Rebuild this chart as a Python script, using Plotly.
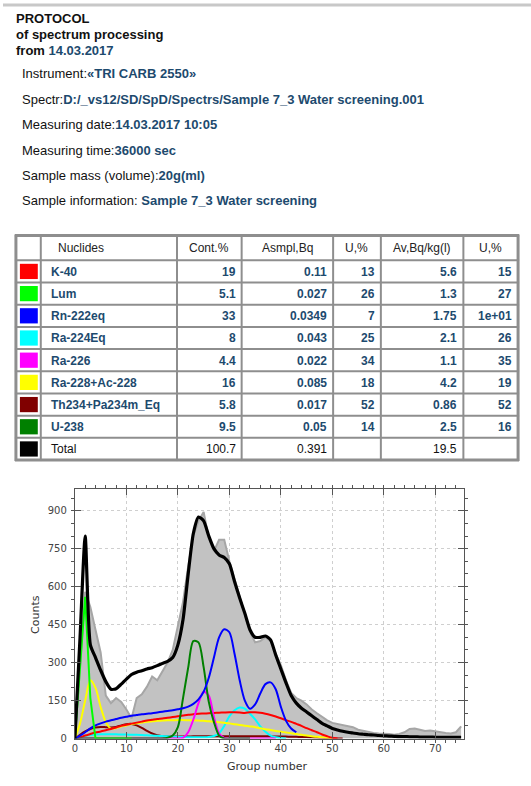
import plotly.graph_objects as go

W, H = 531, 786
BLUE_TXT = "#1d4a6e"
FONT = "Liberation Sans, Arial, sans-serif"
AXFONT = "DejaVu Sans, Verdana, sans-serif"

# ---------------- table data ----------------
nuclides = ["K-40", "Lum", "Rn-222eq", "Ra-224Eq", "Ra-226", "Ra-228+Ac-228",
            "Th234+Pa234m_Eq", "U-238", "Total"]
nuc_colors = ["#ff0000", "#00ff00", "#0000ff", "#00ffff", "#ff00ff", "#ffff00",
              "#800000", "#008000", "#000000"]
cont_pct = ["19", "5.1", "33", "8", "4.4", "16", "5.8", "9.5", "100.7"]
asmpl_bq = ["0.11", "0.027", "0.0349", "0.043", "0.022", "0.085", "0.017", "0.05", "0.391"]
u_pct_1 = ["13", "26", "7", "25", "34", "18", "52", "14", ""]
av_bq_kg = ["5.6", "1.3", "1.75", "2.1", "1.1", "4.2", "0.86", "2.5", "19.5"]
u_pct_2 = ["15", "27", "1e+01", "26", "35", "19", "52", "16", ""]
header_labels = ["", "Nuclides", "Cont.%", "Asmpl,Bq", "U,%", "Av,Bq/kg(l)", "U,%"]

# ---------------- spectrum data (group number 0..75) ----------------
groups = list(range(76))
measured = [0, 280, 580, 520, 430, 340, 170, 140, 160, 145, 115, 80, 160, 175, 205, 245,
            230, 265, 300, 350, 440, 540, 680, 800, 860, 895, 790, 740, 785, 785, 700, 630,
            570, 500, 420, 380, 385, 400, 385, 335, 290, 230, 180, 160, 150, 135, 115, 100,
            85, 72, 62, 58, 52, 48, 45, 35, 30, 26, 22, 20, 20, 18, 15, 18, 25, 38,
            40, 35, 30, 32, 28, 25, 22, 20, 25, 48]
total_fit = [0, 400, 800, 370, 320, 270, 225, 195, 197, 215, 235, 253, 262, 268, 275, 280,
             288, 297, 305, 320, 370, 470, 650, 810, 875, 860, 800, 750, 725, 715, 690, 620,
             555, 495, 430, 400, 400, 405, 390, 330, 275, 220, 170, 140, 120, 105, 90, 75,
             60, 50, 40, 34, 29, 25, 22, 19, 17, 15, 14, 12, 11, 10, 9, 8, 8, 7,
             7, 6, 6, 6, 5, 5, 5, 5, 5, 5]

k40 = [0, 5, 12, 18, 24, 28, 33, 38, 44, 50, 55, 59, 63, 67, 71, 74, 77, 79, 82, 85, 88,
       91, 94, 96, 98, 99, 100, 101, 102, 103, 104, 104, 103, 101, 104, 104, 102, 98, 93,
       87, 80, 73, 66, 58, 50, 41, 33, 25, 16, 9, 3, 0]
lum = [0, 280, 560, 160, 0, 0, 0, 0, 0, 0, 0, 0]
rn222 = [0, 12, 25, 40, 52, 60, 67, 72, 77, 82, 86, 90, 93, 96, 98, 100, 103, 106, 109,
         112, 116, 120, 126, 137, 155, 185, 240, 320, 400, 432, 420, 335, 230, 150, 118,
         135, 178, 215, 222, 195, 125, 70, 40, 25]
ra224 = [0, 5, 10, 14, 16, 17, 17, 17, 17, 16, 16, 15, 15, 14, 13, 12, 11, 10, 9, 8, 7,
         6, 5, 5, 5, 5, 6, 10, 20, 50, 88, 112, 123, 118, 98, 76, 48, 27, 12, 5, 2, 0]
ra226 = [0, 0, 0, 0, 0, 0, 0, 0, 0, 0, 0, 0, 0, 0, 0, 0, 0, 0, 0, 0, 0,
         3, 25, 75, 140, 185, 170, 85, 20, 3, 0, 0, 0, 0, 0, 0, 0, 0, 0, 0]
ra228 = [0, 60, 150, 230, 200, 125, 65, 39, 42, 48, 52, 57, 60, 63, 66, 68, 70, 71, 72,
         72, 73, 73, 72, 72, 71, 70, 68, 66, 64, 62, 60, 57, 54, 51, 48, 45, 41, 37, 34,
         30, 27, 24, 21, 18, 15, 12, 9, 7, 5, 3, 2]
th234 = [0, 15, 28, 38, 44, 46, 45, 44, 46, 52, 57, 58, 52, 42, 30, 20, 13, 9, 8, 8, 8,
         8, 8, 9, 9, 9, 9, 9, 9, 9, 9, 9, 9, 9, 9, 9, 9, 9, 9, 8, 8, 8, 7, 7, 6, 6, 5,
         4, 3, 2, 1, 0, 0]
u238 = [0, 0, 0, 0, 0, 0, 0, 0, 0, 0, 0, 0, 0, 0, 0, 0, 0, 0, 3, 12, 45, 160, 280, 385,
        380, 282, 145, 65, 12, 0, 0, 0, 0, 0, 0]

x_ticks = [0, 10, 20, 30, 40, 50, 60, 70]
y_ticks = [0, 150, 300, 450, 600, 750, 900]

fig = go.Figure()

def px(x):
    return x / W

def py(y):
    return 1 - y / H

# ---------- spectrum ----------
fig.add_trace(go.Scatter(x=groups, y=measured, mode="lines", fill="tozeroy",
                         fillcolor="#c2c2c2", line=dict(color="#a6a6a6", width=2),
                         showlegend=False))
comps = [(th234, nuc_colors[6]), (ra224, nuc_colors[3]), (ra228, nuc_colors[5]),
         (k40, nuc_colors[0]), (ra226, nuc_colors[4]), (u238, nuc_colors[7]),
         (rn222, nuc_colors[2]), (lum, nuc_colors[1])]
for vals, col in comps:
    shape = "linear" if vals is lum else "spline"
    fig.add_trace(go.Scatter(x=groups[:len(vals)], y=vals, mode="lines",
                             line=dict(color=col, width=2, shape=shape, smoothing=0.8),
                             showlegend=False))
fig.add_trace(go.Scatter(x=groups, y=total_fit, mode="lines",
                         line=dict(color="#000000", width=3.2, shape="spline", smoothing=0.6),
                         showlegend=False))

ax_common = dict(showline=True, linecolor="#555", linewidth=1.2, mirror="ticks",
                 ticks="inside", ticklen=6, tickcolor="#555",
                 showgrid=True, gridcolor="#cfcfcf", griddash="dot", gridwidth=1,
                 zeroline=False, tickfont=dict(family=AXFONT, size=10, color="#444"))
fig.update_layout(
    width=W, height=H, autosize=False,
    margin=dict(l=0, r=0, t=0, b=0),
    paper_bgcolor="white", plot_bgcolor="white", showlegend=False,
    xaxis=dict(domain=[px(72.3), px(463.3)], range=[0, 75.5], tickvals=x_ticks,
               minor=dict(dtick=2, ticklen=3, tickcolor="#555", showgrid=False),
               **ax_common),
    yaxis=dict(domain=[py(743.3), py(492.3)], range=[0, 985], tickvals=y_ticks,
               minor=dict(dtick=50, ticklen=3, tickcolor="#555", showgrid=False),
               ticklabelstandoff=5, **ax_common),
)

# ---------- header text ----------
def ann(text, x, y, size=12, anchor="left", color="#111"):
    fig.add_annotation(text=text, x=px(x), y=py(y), xref="paper", yref="paper",
                       xanchor=anchor, yanchor="middle", showarrow=False,
                       borderpad=0, borderwidth=0,
                       font=dict(family=FONT, size=size, color=color))

def blue(s):
    return "<b><span style='color:%s'>%s</span></b>" % (BLUE_TXT, s)

ann("<b>PROTOCOL</b>", 13, 18.5, size=13)
ann("<b>of spectrum processing</b>", 13, 34.5, size=13)
ann("<b>from </b>" + blue("14.03.2017"), 13, 50.5, size=13)
ann("Instrument:" + blue("«TRI CARB 2550»"), 19, 74, size=13)
ann("Spectr:" + blue("D:/_vs12/SD/SpD/Spectrs/Sample 7_3 Water screening.001"), 19, 100, size=13)
ann("Measuring date:" + blue("14.03.2017 10:05"), 19, 125.5, size=13)
ann("Measuring time:" + blue("36000 sec"), 19, 151, size=13)
ann("Sample mass (volume):" + blue("20g(ml)"), 19, 176.5, size=13)
ann("Sample information: " + blue("Sample 7_3 Water screening"), 19, 202, size=13)

# ---------- table (lines, squares, text) ----------
col_edges = [13, 38, 175, 240, 332, 380, 463, 518]
tab_top, head_bot, tab_bot = 237, 262, 463
n = len(nuclides)
row_h = (tab_bot - head_bot) / n
row_edges = [tab_top, head_bot] + [head_bot + row_h * (i + 1) for i in range(n)]
LC = "#8e8e8e"
for xe in col_edges:
    w = 3 if xe in (col_edges[0], col_edges[-1]) else 2
    fig.add_shape(type="line", xref="paper", yref="paper", x0=px(xe), x1=px(xe),
                  y0=py(tab_top - 1), y1=py(tab_bot + 1), line=dict(color=LC, width=w))
for ye in row_edges:
    w = 3 if ye in (tab_top, tab_bot) else 2
    fig.add_shape(type="line", xref="paper", yref="paper", x0=px(col_edges[0] - 1),
                  x1=px(col_edges[-1] + 1), y0=py(ye), y1=py(ye), line=dict(color=LC, width=w))

hy = (tab_top + head_bot) / 2
ann(header_labels[1], col_edges[1] + 17, hy, color="#222")
for j in range(2, 7):
    ann(header_labels[j], (col_edges[j] + col_edges[j + 1]) / 2, hy, anchor="center", color="#222")

value_cols = [cont_pct, asmpl_bq, u_pct_1, av_bq_kg, u_pct_2]
for i in range(n):
    top = head_bot + row_h * i
    cy = top + row_h / 2
    fig.add_shape(type="rect", xref="paper", yref="paper",
                  x0=px(col_edges[0] + 4), x1=px(col_edges[1] - 3),
                  y0=py(top + 3.5), y1=py(top + row_h - 3.5),
                  fillcolor=nuc_colors[i], line=dict(width=0))
    last = i == n - 1
    name = nuclides[i] if last else "<b>%s</b>" % nuclides[i]
    tcol = "#111" if last else BLUE_TXT
    ann(name, col_edges[1] + 10, cy + 0.5, color=tcol)
    for j, colvals in enumerate(value_cols):
        v = colvals[i]
        if v == "":
            continue
        txt = v if last else "<b>%s</b>" % v
        ann(txt, col_edges[j + 3] - 6, cy + 0.5, anchor="right", color=tcol)

fig.add_annotation(text="Counts", x=px(32), y=py(618), xref="paper", yref="paper",
                   textangle=-90, showarrow=False, xanchor="center", yanchor="middle",
                   font=dict(family=AXFONT, size=11, color="#333"))
fig.add_annotation(text="Group number", x=px(266), y=py(771), xref="paper", yref="paper",
                   showarrow=False, xanchor="center", yanchor="middle",
                   font=dict(family=AXFONT, size=11, color="#333"))

fig.add_shape(type="rect", xref="paper", yref="paper", x0=0, x1=1,
              y0=py(6.5), y1=py(3.5), fillcolor="#c8c8c8", line=dict(width=0))

fig.write_html("out.html", config={"displayModeBar": False},
               post_script="document.body.style.margin='0';")
